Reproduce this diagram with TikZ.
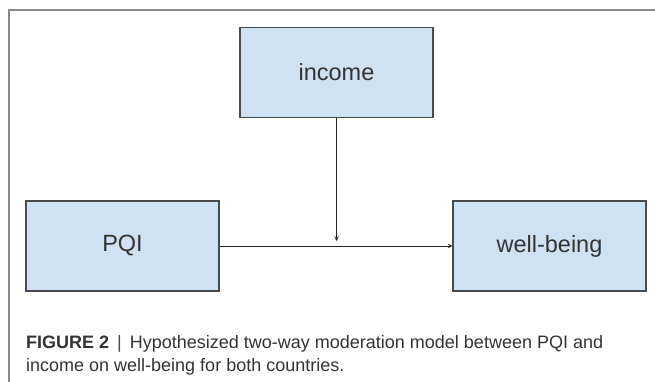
\documentclass[tikz,border=0pt]{standalone}
\usepackage{fontspec}
\setmainfont{Liberation Sans}
\usetikzlibrary{positioning, arrows}
\usepackage{xcolor}
\definecolor{boxblue}{HTML}{CFE2F3}
\definecolor{boxline}{HTML}{4A4A4A}
\definecolor{framegray}{HTML}{8A8A8A}
\definecolor{captext}{HTML}{333333}

\begin{document}
\begin{tikzpicture}[x=1pt, y=-1pt]
\tikzset{
->, % edges are directed
>=stealth, % small filled heads
node distance=427pt, % centre to centre, PQI to well-being
var/.style={draw=boxline, line width=1.2pt, fill=boxblue, minimum width=193pt, minimum height=90pt, inner sep=0pt, font=\fontsize{23.5}{28}\selectfont, text=black!80}, % the three variables
captionline/.style={anchor=base west, inner sep=0pt, font=\fontsize{18}{22}\selectfont, text=captext}, % caption lines
}
	\useasboundingbox (0,0) rectangle (655,382);
	\draw[-, framegray, line width=1.2pt] (9,382) -- (9,10) -- (655,10);

	\node[var] (income) at (336.5,72.5) {income};
	\node[var] (pqi) at (122.5,246) {PQI};
	\node[var, right of=pqi] (wb) {well-being};
	\coordinate (mod) at (income.south |- 0,241);

	\draw[line width=1pt, black!85] (pqi) edge (wb)
	(income) edge (mod);

	\node[captionline] (cap1) at (26,348) {\textbf{FIGURE 2}\, \textcolor{black!70}{|}\, Hypothesized two-way moderation model between PQI and};
	\node[captionline] (cap2) at (26,371) {income on well-being for both countries.};
\end{tikzpicture}
\end{document}
